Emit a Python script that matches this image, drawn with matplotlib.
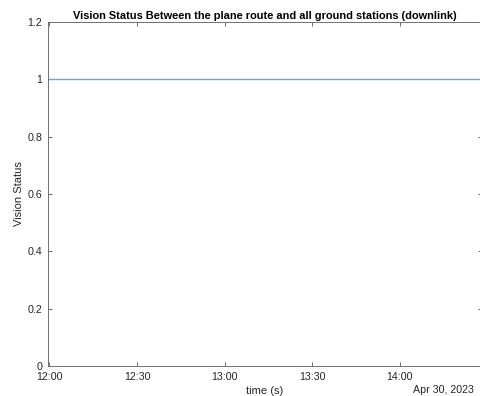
import numpy as np
import pandas as pd
import matplotlib
matplotlib.use('Agg')
import matplotlib.pyplot as plt
import matplotlib.dates as mdates

plt.rcParams['font.family'] = ['Liberation Sans', 'DejaVu Sans']

# route samples: start / end of the flight, vision status (1 = visible)
times = pd.to_datetime(['2023-04-30 11:59:23', '2023-04-30 14:28:20'])
status = [1, 1]
yticks = [0, 0.2, 0.4, 0.6, 0.8, 1.0, 1.2]
ytick_labels = ['0', '0.2', '0.4', '0.6', '0.8', '1', '1.2']
xticks = pd.to_datetime(['2023-04-30 12:00', '2023-04-30 12:30', '2023-04-30 13:00',
                         '2023-04-30 13:30', '2023-04-30 14:00'])

fig = plt.figure(figsize=(4.81, 3.96), dpi=100)
ax = fig.add_axes([47.7 / 481, 1 - 366 / 396, 1.003 - 47.7 / 481, 344 / 396])

ax.plot(times, status, color='#5fa8e0', lw=1.0, solid_capstyle='butt')

ax.set_xlim(times[0], times[-1])
ax.set_ylim(0, 1.2)
ax.set_yticks(yticks)
ax.set_yticklabels(ytick_labels)
ax.set_xticks(xticks)
ax.xaxis.set_major_formatter(mdates.DateFormatter('%H:%M'))

for s in ax.spines.values():
    s.set_color('#707070')
    s.set_linewidth(0.7)
ax.tick_params(direction='in', length=3, width=0.6, colors='#555555',
               labelsize=7.7, top=True, right=True)
ax.tick_params(axis='x', pad=4)
ax.tick_params(axis='y', pad=4)
for lbl in ax.get_xticklabels() + ax.get_yticklabels():
    lbl.set_color('#262626')

ax.set_title('Vision Status Between the plane route and all ground stations (downlink)',
             fontsize=7.9, fontweight='bold', pad=2)
ax.set_xlabel('time (s)', fontsize=8, labelpad=3, color='#262626')
ax.set_ylabel('Vision Status', fontsize=8, labelpad=2, color='#262626')
ax.text(0.98, -0.07, 'Apr 30, 2023', transform=ax.transAxes, ha='right', va='center',
        fontsize=7.7, color='#262626')

fig.savefig('out.png', dpi=100)
